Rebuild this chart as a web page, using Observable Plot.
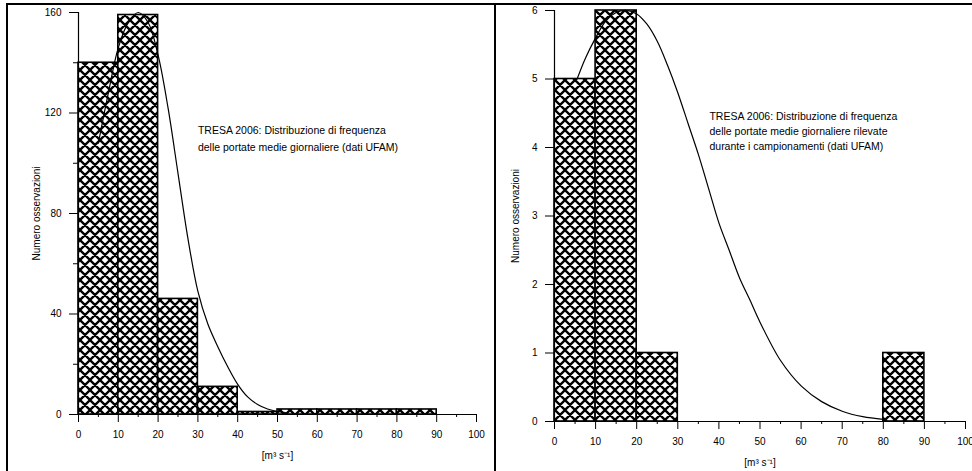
<!DOCTYPE html>
<html>
<head>
<meta charset="utf-8">
<script src="https://cdn.jsdelivr.net/npm/d3@7"></script>
<script src="https://cdn.jsdelivr.net/npm/@observablehq/plot@0.6"></script>
<style>
  html, body { margin: 0; padding: 0; background: #fff; }
  #wrap { position: relative; width: 972px; height: 471px; overflow: hidden; background: #fff; font-family: "Liberation Sans", Arial, Helvetica, sans-serif; }
  .panel { position: absolute; top: 0; }
  .border { position: absolute; background: #000; }
</style>
</head>
<body>
<svg width="0" height="0" style="position:absolute">
  <defs>
    <pattern id="hatch" patternUnits="userSpaceOnUse" width="10" height="10">
      <rect width="10" height="10" fill="#fff"/>
      <path d="M-2,2 L2,-2 M0,10 L10,0 M8,12 L12,8 M-2,8 L2,12 M0,0 L10,10 M8,-2 L12,2" stroke="#000" stroke-width="2.3" fill="none"/>
    </pattern>
  </defs>
</svg>
<div id="wrap">
  <div id="left" class="panel" style="left:0px"></div>
  <div id="right" class="panel" style="left:495px"></div>
  <div class="border" style="left:7px; top:3px; width:965px; height:2px"></div>
  <div class="border" style="left:6px; top:3px; width:2px; height:468px"></div>
  <div class="border" style="left:494px; top:3px; width:2px; height:468px"></div>
</div>
<script>
// ---------- data ----------
const binWidth = 10;
const leftBinStart = [0, 10, 20, 30, 40, 50, 60, 70, 80];
const leftCounts   = [140, 159, 46, 11, 1, 2, 2, 2, 2];
const leftCurveX = [5, 7.5, 10, 12.5, 15, 17.5, 20, 22.5, 25, 27.5, 30, 32.5, 35, 37.5, 40, 42.5, 45, 47.5, 50, 52];
const leftCurveY = [108, 128, 146, 156, 160, 156, 143, 122, 96, 70, 49, 36, 27, 19, 12, 7, 4, 2.2, 1.2, 0.8];
const leftYTicks = [0, 40, 80, 120, 160];
const leftYMinor = [20, 60, 100, 140];
const leftNote = ["TRESA 2006: Distribuzione di frequenza", "delle portate medie giornaliere (dati UFAM)"];

const rightBinStart = [0, 10, 20, 80];
const rightCounts   = [5, 6, 1, 1];
const rightCurveX = [5.5, 7.5, 10, 12.5, 15, 17.5, 20, 22.5, 25, 27.5, 30, 32.5, 35, 37.5, 40, 42.5, 45, 47.5, 50, 55, 60, 65, 70, 75, 80];
const rightCurveY = [5.0, 5.3, 5.6, 5.85, 5.97, 6.0, 5.95, 5.8, 5.55, 5.2, 4.8, 4.35, 3.9, 3.4, 2.9, 2.5, 2.1, 1.78, 1.45, 0.89, 0.52, 0.29, 0.15, 0.07, 0.03];
const rightYTicks = [0, 1, 2, 3, 4, 5, 6];
const rightNote = ["TRESA 2006: Distribuzione di frequenza", "delle portate medie giornaliere rilevate", "durante i campionamenti (dati UFAM)"];

const xTicks = [0, 10, 20, 30, 40, 50, 60, 70, 80, 90, 100];
const xMinor = [5, 15, 25, 35, 45, 55, 65, 75, 85, 95];
const xLabel = "[m³ s⁻¹]";
const yLabel = "Numero osservazioni";

const font = '"Liberation Sans", Arial, Helvetica, sans-serif';

function panel({binStart, counts, curveX, curveY, yMax, yTicks, yMinor, note, noteX, noteY, noteLH,
                width, height, mL, mR, mT, mB, yLabelOffset}) {
  const bins = binStart.map((s, i) => ({x1: s, x2: s + binWidth, count: counts[i]}));
  const curve = curveX.map((x, i) => ({x, y: curveY[i]}));
  const marks = [
    Plot.rectY(bins, {x1: "x1", x2: "x2", y: "count", fill: "url(#hatch)", stroke: "#000", strokeWidth: 1.6, inset: 0}),
    Plot.line(curve, {x: "x", y: "y", curve: "catmull-rom", stroke: "#000", strokeWidth: 1.2}),
    Plot.ruleY([0], {x1: 0, x2: 100, stroke: "#000", strokeWidth: 1.2}),
    Plot.ruleX([0], {y1: 0, y2: yMax, stroke: "#000", strokeWidth: 1.2}),
    Plot.axisX({ticks: xTicks, tickSize: 8, tickPadding: 8, tickFormat: "d", label: xLabel, labelAnchor: "center", labelArrow: "none", labelOffset: 44, fontSize: 10}),
    Plot.axisX({ticks: xMinor, tickSize: 3, tickFormat: () => "", label: null}),
    Plot.axisY({ticks: yTicks, tickSize: 9, tickPadding: 8, tickFormat: "d", label: yLabel, labelAnchor: "center", labelArrow: "none", labelOffset: yLabelOffset}),
    Plot.text([note.join("\n")], {x: noteX, y: noteY, text: d => d, textAnchor: "start", lineAnchor: "top", lineHeight: noteLH, fontSize: 10.5, fill: "#000"})
  ];
  if (yMinor) marks.splice(6, 0, Plot.axisY({ticks: yMinor, tickSize: 5, tickFormat: () => "", label: null}));
  return Plot.plot({
    width, height,
    marginLeft: mL, marginRight: mR, marginTop: mT, marginBottom: mB,
    style: {fontFamily: font, fontSize: "10px", color: "#000", background: "transparent"},
    x: {domain: [0, 100]},
    y: {domain: [0, yMax]},
    marks
  });
}

document.getElementById("left").append(panel({
  binStart: leftBinStart, counts: leftCounts, curveX: leftCurveX, curveY: leftCurveY,
  yMax: 160, yTicks: leftYTicks, yMinor: leftYMinor,
  note: leftNote, noteX: 30, noteY: 116.5, noteLH: 1.6,
  width: 495, height: 471, mL: 78, mR: 19, mT: 12, mB: 57, yLabelOffset: 46
}));

document.getElementById("right").append(panel({
  binStart: rightBinStart, counts: rightCounts, curveX: rightCurveX, curveY: rightCurveY,
  yMax: 6, yTicks: rightYTicks, yMinor: null,
  note: rightNote, noteX: 37.7, noteY: 4.55, noteLH: 1.4,
  width: 477, height: 471, mL: 59, mR: 7, mT: 10, mB: 50, yLabelOffset: 43
}));
</script>
</body>
</html>
